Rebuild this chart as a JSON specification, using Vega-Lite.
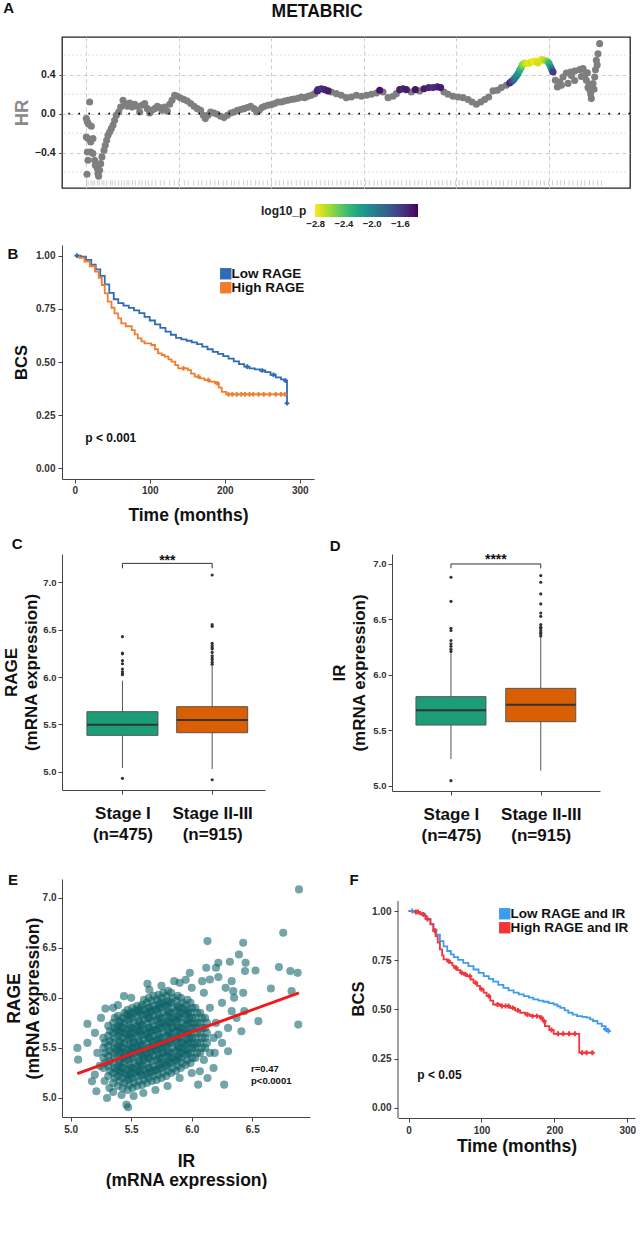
{
"$schema": "https://vega.github.io/schema/vega-lite/v6.json",
"background": "white",
"padding": {"left": 2, "top": 0, "right": 0, "bottom": 0},
"config": {
  "font": "Liberation Sans",
  "view": {"stroke": null},
  "axis": {"labelFontWeight": "bold", "titleFontWeight": "bold", "labelColor": "#333", "titleColor": "#111", "domainColor": "#444", "tickColor": "#444", "grid": false, "tickSize": 4, "labelFontSize": 10, "labelFlush": false},
  "title": {"fontWeight": "bold", "fontSize": 15, "anchor": "start", "frame": "bounds", "color": "#111", "baseline": "alphabetic"},
  "legend": {"labelFontWeight": "bold"}
},
"datasets": {
  "hr": [
    {"x":0.7,"hr":-0.622},{"x":3.6,"hr":0.12},{"x":0.0,"hr":-0.051},{"x":1.1,"hr":-0.085},{"x":2.5,"hr":-0.109},{"x":5.4,"hr":-0.13},{"x":0.0,"hr":-0.239},{"x":1.8,"hr":-0.256},{"x":7.2,"hr":-0.256},{"x":4.7,"hr":-0.291},{"x":1.1,"hr":-0.393},{"x":4.7,"hr":-0.393},{"x":7.2,"hr":-0.41},{"x":1.8,"hr":-0.479},{"x":9.0,"hr":-0.479},{"x":9.7,"hr":-0.53},{"x":11.9,"hr":-0.564},{"x":12.6,"hr":-0.615},{"x":13.3,"hr":-0.643},
    {"x":14.4,"hr":-0.581},{"x":15.5,"hr":-0.513},{"x":16.9,"hr":-0.444},{"x":19.1,"hr":-0.376},{"x":20.5,"hr":-0.325},{"x":22.0,"hr":-0.274},{"x":23.4,"hr":-0.222},{"x":25.2,"hr":-0.188},{"x":27.0,"hr":-0.154},{"x":28.8,"hr":-0.12},{"x":30.6,"hr":-0.068},{"x":32.4,"hr":-0.017},{"x":35.0,"hr":0.017},{"x":37.1,"hr":0.068},{"x":39.7,"hr":0.137},{"x":41.5,"hr":0.103},{"x":44.3,"hr":0.075},{"x":46.9,"hr":0.109},{"x":49.4,"hr":0.068},{"x":52.3,"hr":0.096},{"x":55.1,"hr":0.075},{"x":57.7,"hr":0.017},{"x":60.2,"hr":0.085},{"x":63.1,"hr":0.103},{"x":66.0,"hr":0.051},{"x":68.5,"hr":0.007},{"x":71.0,"hr":0.034},{"x":73.9,"hr":0.051},{"x":76.8,"hr":0.075},{"x":79.3,"hr":0.062},{"x":81.8,"hr":0.034},{"x":84.7,"hr":0.068},{"x":87.6,"hr":0.024},{"x":90.1,"hr":0.096},{"x":92.6,"hr":0.137},{"x":95.5,"hr":0.188},{"x":98.4,"hr":0.178},{"x":102.0,"hr":0.161},{"x":105.6,"hr":0.144},{"x":109.2,"hr":0.13},{"x":112.8,"hr":0.103},{"x":116.4,"hr":0.075},{"x":120.0,"hr":0.051},{"x":123.6,"hr":0.034},{"x":126.5,"hr":-0.017},{"x":128.7,"hr":-0.051},{"x":131.6,"hr":-0.017},{"x":134.4,"hr":0.017},{"x":138.0,"hr":0.007},{"x":141.6,"hr":-0.007},{"x":145.3,"hr":-0.027},{"x":148.9,"hr":-0.041},{"x":152.5,"hr":-0.017},{"x":156.1,"hr":0.007},{"x":159.7,"hr":0.017},{"x":163.3,"hr":0.034},{"x":166.9,"hr":0.041},{"x":170.5,"hr":0.051},{"x":174.1,"hr":0.062},{"x":177.7,"hr":0.075},{"x":181.3,"hr":0.051},{"x":184.2,"hr":0.017},{"x":187.0,"hr":0.034},{"x":189.9,"hr":0.062},{"x":192.8,"hr":0.075},{"x":196.4,"hr":0.085},{"x":200.0,"hr":0.092},{"x":203.6,"hr":0.103},{"x":207.2,"hr":0.12},{"x":210.8,"hr":0.12},{"x":214.4,"hr":0.13},{"x":218.0,"hr":0.137},{"x":221.7,"hr":0.144},{"x":225.3,"hr":0.15},{"x":228.9,"hr":0.157},{"x":232.5,"hr":0.171},{"x":236.1,"hr":0.164},{"x":239.7,"hr":0.178},{"x":243.3,"hr":0.188},{"x":246.9,"hr":0.205},
    {"x":264.9,"hr":0.222},{"x":270.3,"hr":0.205},{"x":275.7,"hr":0.188},{"x":281.1,"hr":0.164},{"x":286.5,"hr":0.171},{"x":292.0,"hr":0.188},{"x":297.4,"hr":0.178},{"x":302.8,"hr":0.188},{"x":308.2,"hr":0.198},{"x":313.6,"hr":0.212},{"x":320.8,"hr":0.222},{"x":326.2,"hr":0.164},{"x":331.6,"hr":0.178},{"x":335.2,"hr":0.205},{"x":351.4,"hr":0.222},{"x":360.4,"hr":0.233},{"x":386.7,"hr":0.222},{"x":391.1,"hr":0.198},{"x":396.5,"hr":0.178},{"x":401.9,"hr":0.171},{"x":407.3,"hr":0.164},{"x":412.7,"hr":0.144},{"x":417.0,"hr":0.12},{"x":421.7,"hr":0.096},{"x":426.4,"hr":0.12},{"x":430.7,"hr":0.144},{"x":435.0,"hr":0.171},{"x":439.7,"hr":0.233},{"x":444.4,"hr":0.239},{"x":448.7,"hr":0.267},{"x":454.1,"hr":0.291},
    {"x":507.1,"hr":0.342},{"x":509.3,"hr":0.274},{"x":511.8,"hr":0.325},{"x":515.4,"hr":0.376},{"x":519.0,"hr":0.417},{"x":523.7,"hr":0.427},{"x":528.0,"hr":0.438},{"x":533.4,"hr":0.451},{"x":537.0,"hr":0.462},{"x":538.8,"hr":0.393},{"x":540.6,"hr":0.342},{"x":542.4,"hr":0.267},{"x":544.2,"hr":0.246},{"x":546.0,"hr":0.154},{"x":547.8,"hr":0.308},{"x":549.6,"hr":0.376},{"x":551.4,"hr":0.547},{"x":553.2,"hr":0.615},{"x":555.0,"hr":0.718},
    {"x":513.6,"hr":0.29},{"x":520.8,"hr":0.31},{"x":528.0,"hr":0.34},{"x":535.2,"hr":0.38},{"x":524.4,"hr":0.39},{"x":541.7,"hr":0.42},{"x":543.5,"hr":0.3},{"x":545.3,"hr":0.2},{"x":548.9,"hr":0.25},{"x":550.5,"hr":0.45},{"x":552.3,"hr":0.5},
    {"x":249.8,"hr":0.233,"p":-1.45},{"x":250.5,"hr":0.246,"p":-1.5},{"x":254.1,"hr":0.256,"p":-1.55},{"x":257.7,"hr":0.246,"p":-1.5},{"x":261.3,"hr":0.233,"p":-1.45},{"x":317.2,"hr":0.239,"p":-1.42},{"x":338.8,"hr":0.246,"p":-1.45},{"x":342.4,"hr":0.256,"p":-1.5},{"x":346.0,"hr":0.246,"p":-1.45},{"x":355.7,"hr":0.246,"p":-1.42},{"x":365.1,"hr":0.256,"p":-1.45},{"x":370.2,"hr":0.267,"p":-1.5},{"x":374.8,"hr":0.267,"p":-1.55},{"x":379.5,"hr":0.274,"p":-1.5},{"x":383.1,"hr":0.267,"p":-1.45},
    {"x":457.7,"hr":0.315,"p":-1.5},{"x":459.5,"hr":0.33,"p":-1.6},{"x":461.3,"hr":0.342,"p":-1.75},{"x":463.0,"hr":0.36,"p":-1.9},{"x":464.9,"hr":0.383,"p":-2.0},{"x":466.7,"hr":0.41,"p":-2.1},{"x":468.5,"hr":0.444,"p":-2.25},{"x":470.0,"hr":0.47,"p":-2.35},{"x":471.1,"hr":0.496,"p":-2.5},{"x":472.5,"hr":0.51,"p":-2.55},{"x":474.0,"hr":0.52,"p":-2.65},{"x":476.0,"hr":0.515,"p":-2.7},{"x":477.6,"hr":0.513,"p":-2.75},{"x":479.5,"hr":0.52,"p":-2.75},{"x":481.2,"hr":0.53,"p":-2.7},{"x":483.0,"hr":0.535,"p":-2.78},{"x":484.8,"hr":0.54,"p":-2.8},{"x":486.5,"hr":0.53,"p":-2.75},{"x":488.4,"hr":0.52,"p":-2.7},{"x":490.0,"hr":0.54,"p":-2.72},{"x":492.0,"hr":0.554,"p":-2.75},{"x":494.0,"hr":0.55,"p":-2.7},{"x":495.6,"hr":0.547,"p":-2.65},{"x":497.5,"hr":0.54,"p":-2.6},{"x":499.2,"hr":0.53,"p":-2.45},{"x":500.5,"hr":0.51,"p":-2.3},{"x":502.1,"hr":0.479,"p":-2.1},{"x":503.3,"hr":0.45,"p":-1.9},{"x":504.6,"hr":0.427,"p":-1.6}
  ],
  "rug": [{"x":0},{"x":2},{"x":5},{"x":7},{"x":9},{"x":12},{"x":14},{"x":17},{"x":19},{"x":22},{"x":26},{"x":28},{"x":31},{"x":35},{"x":38},{"x":41},{"x":44},{"x":46},{"x":50},{"x":53},{"x":57},{"x":60},{"x":64},{"x":67},{"x":71},{"x":75},{"x":80},{"x":84},{"x":90},{"x":95},{"x":100},{"x":106},{"x":110},{"x":116},{"x":121},{"x":125},{"x":130},{"x":134},{"x":139},{"x":143},{"x":148},{"x":152},{"x":157},{"x":160},{"x":165},{"x":170},{"x":174},{"x":178},{"x":183},{"x":187},{"x":191},{"x":196},{"x":200},{"x":205},{"x":209},{"x":213},{"x":218},{"x":222},{"x":227},{"x":231},{"x":236},{"x":240},{"x":244},{"x":249},{"x":253},{"x":258},{"x":262},{"x":266},{"x":271},{"x":275},{"x":280},{"x":284},{"x":289},{"x":293},{"x":297},{"x":302},{"x":306},{"x":311},{"x":315},{"x":319},{"x":324},{"x":328},{"x":333},{"x":337},{"x":341},{"x":346},{"x":350},{"x":355},{"x":359},{"x":363},{"x":368},{"x":372},{"x":377},{"x":381},{"x":385},{"x":390},{"x":394},{"x":399},{"x":403},{"x":407},{"x":412},{"x":416},{"x":421},{"x":425},{"x":429},{"x":434},{"x":438},{"x":443},{"x":447},{"x":451},{"x":456},{"x":460},{"x":465},{"x":469},{"x":473},{"x":478},{"x":482},{"x":487},{"x":491},{"x":495},{"x":500},{"x":504},{"x":509},{"x":513},{"x":517},{"x":522},{"x":526},{"x":531},{"x":535},{"x":539},{"x":544},{"x":548},{"x":553},{"x":557}],
  "kmB": [
    {"t":0,"s":1.0,"g":"Low RAGE"},{"t":8,"s":0.995,"g":"Low RAGE"},{"t":15,"s":0.98,"g":"Low RAGE"},{"t":22,"s":0.958,"g":"Low RAGE"},{"t":28,"s":0.935,"g":"Low RAGE"},{"t":34,"s":0.905,"g":"Low RAGE"},{"t":40,"s":0.865,"g":"Low RAGE"},{"t":46,"s":0.825,"g":"Low RAGE"},{"t":52,"s":0.795,"g":"Low RAGE"},{"t":58,"s":0.777,"g":"Low RAGE"},{"t":65,"s":0.765,"g":"Low RAGE"},{"t":72,"s":0.754,"g":"Low RAGE"},{"t":79,"s":0.743,"g":"Low RAGE"},{"t":86,"s":0.73,"g":"Low RAGE"},{"t":93,"s":0.712,"g":"Low RAGE"},{"t":100,"s":0.695,"g":"Low RAGE"},{"t":107,"s":0.677,"g":"Low RAGE"},{"t":114,"s":0.66,"g":"Low RAGE"},{"t":121,"s":0.643,"g":"Low RAGE"},{"t":128,"s":0.628,"g":"Low RAGE"},{"t":135,"s":0.613,"g":"Low RAGE"},{"t":142,"s":0.606,"g":"Low RAGE"},{"t":149,"s":0.6,"g":"Low RAGE"},{"t":156,"s":0.592,"g":"Low RAGE"},{"t":163,"s":0.584,"g":"Low RAGE"},{"t":170,"s":0.572,"g":"Low RAGE"},{"t":177,"s":0.56,"g":"Low RAGE"},{"t":184,"s":0.548,"g":"Low RAGE"},{"t":191,"s":0.538,"g":"Low RAGE"},{"t":198,"s":0.528,"g":"Low RAGE"},{"t":205,"s":0.516,"g":"Low RAGE"},{"t":212,"s":0.503,"g":"Low RAGE"},{"t":219,"s":0.49,"g":"Low RAGE"},{"t":226,"s":0.478,"g":"Low RAGE"},{"t":233,"s":0.47,"g":"Low RAGE"},{"t":240,"s":0.465,"g":"Low RAGE"},{"t":247,"s":0.46,"g":"Low RAGE"},{"t":254,"s":0.452,"g":"Low RAGE"},{"t":261,"s":0.44,"g":"Low RAGE"},{"t":268,"s":0.428,"g":"Low RAGE"},{"t":275,"s":0.418,"g":"Low RAGE"},{"t":281,"s":0.412,"g":"Low RAGE"},{"t":283,"s":0.306,"g":"Low RAGE"},
    {"t":0,"s":1.0,"g":"High RAGE"},{"t":6,"s":0.99,"g":"High RAGE"},{"t":13,"s":0.972,"g":"High RAGE"},{"t":20,"s":0.95,"g":"High RAGE"},{"t":27,"s":0.925,"g":"High RAGE"},{"t":32,"s":0.895,"g":"High RAGE"},{"t":36,"s":0.862,"g":"High RAGE"},{"t":40,"s":0.823,"g":"High RAGE"},{"t":44,"s":0.784,"g":"High RAGE"},{"t":49,"s":0.755,"g":"High RAGE"},{"t":53,"s":0.729,"g":"High RAGE"},{"t":58,"s":0.705,"g":"High RAGE"},{"t":62,"s":0.682,"g":"High RAGE"},{"t":68,"s":0.668,"g":"High RAGE"},{"t":76,"s":0.65,"g":"High RAGE"},{"t":80,"s":0.63,"g":"High RAGE"},{"t":84,"s":0.611,"g":"High RAGE"},{"t":89,"s":0.597,"g":"High RAGE"},{"t":93,"s":0.588,"g":"High RAGE"},{"t":102,"s":0.58,"g":"High RAGE"},{"t":107,"s":0.56,"g":"High RAGE"},{"t":111,"s":0.541,"g":"High RAGE"},{"t":116,"s":0.533,"g":"High RAGE"},{"t":120,"s":0.525,"g":"High RAGE"},{"t":125,"s":0.512,"g":"High RAGE"},{"t":129,"s":0.502,"g":"High RAGE"},{"t":134,"s":0.485,"g":"High RAGE"},{"t":138,"s":0.47,"g":"High RAGE"},{"t":151,"s":0.462,"g":"High RAGE"},{"t":155,"s":0.445,"g":"High RAGE"},{"t":160,"s":0.431,"g":"High RAGE"},{"t":167,"s":0.423,"g":"High RAGE"},{"t":173,"s":0.415,"g":"High RAGE"},{"t":180,"s":0.408,"g":"High RAGE"},{"t":187,"s":0.4,"g":"High RAGE"},{"t":192,"s":0.38,"g":"High RAGE"},{"t":196,"s":0.36,"g":"High RAGE"},{"t":202,"s":0.348,"g":"High RAGE"},{"t":280,"s":0.348,"g":"High RAGE"}
  ],
  "cenB": [
    {"t":3,"s":1.0,"g":"Low RAGE"},{"t":230,"s":0.478,"g":"Low RAGE"},{"t":250,"s":0.46,"g":"Low RAGE"},{"t":265,"s":0.44,"g":"Low RAGE"},{"t":281,"s":0.412,"g":"Low RAGE"},{"t":283,"s":0.306,"g":"Low RAGE"},
    {"t":145,"s":0.47,"g":"High RAGE"},{"t":165,"s":0.431,"g":"High RAGE"},{"t":178,"s":0.415,"g":"High RAGE"},{"t":190,"s":0.4,"g":"High RAGE"},{"t":205,"s":0.348,"g":"High RAGE"},{"t":210,"s":0.348,"g":"High RAGE"},{"t":216,"s":0.348,"g":"High RAGE"},{"t":222,"s":0.348,"g":"High RAGE"},{"t":227,"s":0.348,"g":"High RAGE"},{"t":233,"s":0.348,"g":"High RAGE"},{"t":238,"s":0.348,"g":"High RAGE"},{"t":245,"s":0.348,"g":"High RAGE"},{"t":252,"s":0.348,"g":"High RAGE"},{"t":260,"s":0.348,"g":"High RAGE"},{"t":268,"s":0.348,"g":"High RAGE"},{"t":275,"s":0.348,"g":"High RAGE"},{"t":280,"s":0.348,"g":"High RAGE"}
  ],
  "boxC": [
    {"g":1,"stage":"Stage I","lo":5.039,"q1":5.384,"med":5.496,"q3":5.634,"hi":5.961},
    {"g":2,"stage":"Stage II-III","lo":5.028,"q1":5.412,"med":5.546,"q3":5.687,"hi":6.12}
  ],
  "outC": [
    {"g":1,"v":6.426},{"g":1,"v":6.254},{"g":1,"v":6.245},{"g":1,"v":6.173},{"g":1,"v":6.14},{"g":1,"v":6.085},{"g":1,"v":6.056},{"g":1,"v":6.035},{"g":1,"v":6.025},{"g":1,"v":4.93},
    {"g":2,"v":7.077},{"g":2,"v":6.553},{"g":2,"v":6.535},{"g":2,"v":6.356},{"g":2,"v":6.331},{"g":2,"v":6.31},{"g":2,"v":6.296},{"g":2,"v":6.26},{"g":2,"v":6.225},{"g":2,"v":6.2},{"g":2,"v":6.183},{"g":2,"v":6.155},{"g":2,"v":6.135},{"g":2,"v":4.915}
  ],
  "brC": [{"g":1,"v":7.148,"o":1},{"g":1,"v":7.2,"o":2},{"g":2,"v":7.2,"o":3},{"g":2,"v":7.148,"o":4}],
  "boxD": [
    {"g":1,"stage":"Stage I","lo":5.241,"q1":5.547,"med":5.68,"q3":5.803,"hi":6.194},
    {"g":2,"stage":"Stage II-III","lo":5.135,"q1":5.577,"med":5.731,"q3":5.878,"hi":6.344}
  ],
  "outD": [
    {"g":1,"v":6.88},{"g":1,"v":6.663},{"g":1,"v":6.42},{"g":1,"v":6.4},{"g":1,"v":6.31},{"g":1,"v":6.28},{"g":1,"v":6.257},{"g":1,"v":6.23},{"g":1,"v":6.21},{"g":1,"v":5.045},
    {"g":2,"v":6.895},{"g":2,"v":6.835},{"g":2,"v":6.73},{"g":2,"v":6.64},{"g":2,"v":6.558},{"g":2,"v":6.528},{"g":2,"v":6.453},{"g":2,"v":6.43},{"g":2,"v":6.42},{"g":2,"v":6.4},{"g":2,"v":6.38},{"g":2,"v":6.37},{"g":2,"v":6.35}
  ],
  "brD": [{"g":1,"v":6.961,"o":1},{"g":1,"v":7.0,"o":2},{"g":2,"v":7.0,"o":3},{"g":2,"v":6.961,"o":4}],
  "scat": [
    {"ir":5.27,"rage":5.3},{"ir":5.285,"rage":5.35},{"ir":5.27,"rage":5.4},{"ir":5.285,"rage":5.45},{"ir":5.27,"rage":5.5},{"ir":5.285,"rage":5.55},{"ir":5.27,"rage":5.6},
    {"ir":5.31,"rage":5.22},{"ir":5.325,"rage":5.27},{"ir":5.31,"rage":5.32},{"ir":5.325,"rage":5.37},{"ir":5.31,"rage":5.42},{"ir":5.325,"rage":5.47},{"ir":5.31,"rage":5.52},{"ir":5.325,"rage":5.57},{"ir":5.31,"rage":5.62},{"ir":5.325,"rage":5.67},{"ir":5.31,"rage":5.72},
    {"ir":5.35,"rage":5.15},{"ir":5.365,"rage":5.2},{"ir":5.35,"rage":5.25},{"ir":5.365,"rage":5.3},{"ir":5.35,"rage":5.35},{"ir":5.365,"rage":5.4},{"ir":5.35,"rage":5.45},{"ir":5.365,"rage":5.5},{"ir":5.35,"rage":5.55},{"ir":5.365,"rage":5.6},{"ir":5.35,"rage":5.65},{"ir":5.365,"rage":5.7},{"ir":5.35,"rage":5.75},{"ir":5.365,"rage":5.8},
    {"ir":5.39,"rage":5.12},{"ir":5.405,"rage":5.17},{"ir":5.39,"rage":5.22},{"ir":5.405,"rage":5.27},{"ir":5.39,"rage":5.32},{"ir":5.405,"rage":5.37},{"ir":5.39,"rage":5.42},{"ir":5.405,"rage":5.47},{"ir":5.39,"rage":5.52},{"ir":5.405,"rage":5.57},{"ir":5.39,"rage":5.62},{"ir":5.405,"rage":5.67},{"ir":5.39,"rage":5.72},{"ir":5.405,"rage":5.77},{"ir":5.39,"rage":5.82},
    {"ir":5.43,"rage":5.1},{"ir":5.445,"rage":5.15},{"ir":5.43,"rage":5.2},{"ir":5.445,"rage":5.25},{"ir":5.43,"rage":5.3},{"ir":5.445,"rage":5.35},{"ir":5.43,"rage":5.4},{"ir":5.445,"rage":5.45},{"ir":5.43,"rage":5.5},{"ir":5.445,"rage":5.55},{"ir":5.43,"rage":5.6},{"ir":5.445,"rage":5.65},{"ir":5.43,"rage":5.7},{"ir":5.445,"rage":5.75},{"ir":5.43,"rage":5.8},{"ir":5.445,"rage":5.85},
    {"ir":5.47,"rage":5.08},{"ir":5.485,"rage":5.13},{"ir":5.47,"rage":5.18},{"ir":5.485,"rage":5.23},{"ir":5.47,"rage":5.28},{"ir":5.485,"rage":5.33},{"ir":5.47,"rage":5.38},{"ir":5.485,"rage":5.43},{"ir":5.47,"rage":5.48},{"ir":5.485,"rage":5.53},{"ir":5.47,"rage":5.58},{"ir":5.485,"rage":5.63},{"ir":5.47,"rage":5.68},{"ir":5.485,"rage":5.73},{"ir":5.47,"rage":5.78},{"ir":5.485,"rage":5.83},{"ir":5.47,"rage":5.88},
    {"ir":5.51,"rage":5.1},{"ir":5.525,"rage":5.15},{"ir":5.51,"rage":5.2},{"ir":5.525,"rage":5.25},{"ir":5.51,"rage":5.3},{"ir":5.525,"rage":5.35},{"ir":5.51,"rage":5.4},{"ir":5.525,"rage":5.45},{"ir":5.51,"rage":5.5},{"ir":5.525,"rage":5.55},{"ir":5.51,"rage":5.6},{"ir":5.525,"rage":5.65},{"ir":5.51,"rage":5.7},{"ir":5.525,"rage":5.75},{"ir":5.51,"rage":5.8},{"ir":5.525,"rage":5.85},{"ir":5.51,"rage":5.9},
    {"ir":5.55,"rage":5.12},{"ir":5.565,"rage":5.17},{"ir":5.55,"rage":5.22},{"ir":5.565,"rage":5.27},{"ir":5.55,"rage":5.32},{"ir":5.565,"rage":5.37},{"ir":5.55,"rage":5.42},{"ir":5.565,"rage":5.47},{"ir":5.55,"rage":5.52},{"ir":5.565,"rage":5.57},{"ir":5.55,"rage":5.62},{"ir":5.565,"rage":5.67},{"ir":5.55,"rage":5.72},{"ir":5.565,"rage":5.77},{"ir":5.55,"rage":5.82},{"ir":5.565,"rage":5.87},{"ir":5.55,"rage":5.92},
    {"ir":5.59,"rage":5.13},{"ir":5.605,"rage":5.18},{"ir":5.59,"rage":5.23},{"ir":5.605,"rage":5.28},{"ir":5.59,"rage":5.33},{"ir":5.605,"rage":5.38},{"ir":5.59,"rage":5.43},{"ir":5.605,"rage":5.48},{"ir":5.59,"rage":5.53},{"ir":5.605,"rage":5.58},{"ir":5.59,"rage":5.63},{"ir":5.605,"rage":5.68},{"ir":5.59,"rage":5.73},{"ir":5.605,"rage":5.78},{"ir":5.59,"rage":5.83},{"ir":5.605,"rage":5.88},{"ir":5.59,"rage":5.93},{"ir":5.605,"rage":5.98},
    {"ir":5.63,"rage":5.15},{"ir":5.645,"rage":5.2},{"ir":5.63,"rage":5.25},{"ir":5.645,"rage":5.3},{"ir":5.63,"rage":5.35},{"ir":5.645,"rage":5.4},{"ir":5.63,"rage":5.45},{"ir":5.645,"rage":5.5},{"ir":5.63,"rage":5.55},{"ir":5.645,"rage":5.6},{"ir":5.63,"rage":5.65},{"ir":5.645,"rage":5.7},{"ir":5.63,"rage":5.75},{"ir":5.645,"rage":5.8},{"ir":5.63,"rage":5.85},{"ir":5.645,"rage":5.9},{"ir":5.63,"rage":5.95},{"ir":5.645,"rage":6.0},
    {"ir":5.67,"rage":5.17},{"ir":5.685,"rage":5.22},{"ir":5.67,"rage":5.27},{"ir":5.685,"rage":5.32},{"ir":5.67,"rage":5.37},{"ir":5.685,"rage":5.42},{"ir":5.67,"rage":5.47},{"ir":5.685,"rage":5.52},{"ir":5.67,"rage":5.57},{"ir":5.685,"rage":5.62},{"ir":5.67,"rage":5.67},{"ir":5.685,"rage":5.72},{"ir":5.67,"rage":5.77},{"ir":5.685,"rage":5.82},{"ir":5.67,"rage":5.87},{"ir":5.685,"rage":5.92},{"ir":5.67,"rage":5.97},{"ir":5.685,"rage":6.02},
    {"ir":5.71,"rage":5.18},{"ir":5.725,"rage":5.23},{"ir":5.71,"rage":5.28},{"ir":5.725,"rage":5.33},{"ir":5.71,"rage":5.38},{"ir":5.725,"rage":5.43},{"ir":5.71,"rage":5.48},{"ir":5.725,"rage":5.53},{"ir":5.71,"rage":5.58},{"ir":5.725,"rage":5.63},{"ir":5.71,"rage":5.68},{"ir":5.725,"rage":5.73},{"ir":5.71,"rage":5.78},{"ir":5.725,"rage":5.83},{"ir":5.71,"rage":5.88},{"ir":5.725,"rage":5.93},{"ir":5.71,"rage":5.98},{"ir":5.725,"rage":6.03},
    {"ir":5.75,"rage":5.2},{"ir":5.765,"rage":5.25},{"ir":5.75,"rage":5.3},{"ir":5.765,"rage":5.35},{"ir":5.75,"rage":5.4},{"ir":5.765,"rage":5.45},{"ir":5.75,"rage":5.5},{"ir":5.765,"rage":5.55},{"ir":5.75,"rage":5.6},{"ir":5.765,"rage":5.65},{"ir":5.75,"rage":5.7},{"ir":5.765,"rage":5.75},{"ir":5.75,"rage":5.8},{"ir":5.765,"rage":5.85},{"ir":5.75,"rage":5.9},{"ir":5.765,"rage":5.95},{"ir":5.75,"rage":6.0},{"ir":5.765,"rage":6.05},
    {"ir":5.79,"rage":5.22},{"ir":5.805,"rage":5.27},{"ir":5.79,"rage":5.32},{"ir":5.805,"rage":5.37},{"ir":5.79,"rage":5.42},{"ir":5.805,"rage":5.47},{"ir":5.79,"rage":5.52},{"ir":5.805,"rage":5.57},{"ir":5.79,"rage":5.62},{"ir":5.805,"rage":5.67},{"ir":5.79,"rage":5.72},{"ir":5.805,"rage":5.77},{"ir":5.79,"rage":5.82},{"ir":5.805,"rage":5.87},{"ir":5.79,"rage":5.92},{"ir":5.805,"rage":5.97},{"ir":5.79,"rage":6.02},{"ir":5.805,"rage":6.07},
    {"ir":5.83,"rage":5.25},{"ir":5.845,"rage":5.3},{"ir":5.83,"rage":5.35},{"ir":5.845,"rage":5.4},{"ir":5.83,"rage":5.45},{"ir":5.845,"rage":5.5},{"ir":5.83,"rage":5.55},{"ir":5.845,"rage":5.6},{"ir":5.83,"rage":5.65},{"ir":5.845,"rage":5.7},{"ir":5.83,"rage":5.75},{"ir":5.845,"rage":5.8},{"ir":5.83,"rage":5.85},{"ir":5.845,"rage":5.9},{"ir":5.83,"rage":5.95},{"ir":5.845,"rage":6.0},{"ir":5.83,"rage":6.05},
    {"ir":5.87,"rage":5.27},{"ir":5.885,"rage":5.32},{"ir":5.87,"rage":5.37},{"ir":5.885,"rage":5.42},{"ir":5.87,"rage":5.47},{"ir":5.885,"rage":5.52},{"ir":5.87,"rage":5.57},{"ir":5.885,"rage":5.62},{"ir":5.87,"rage":5.67},{"ir":5.885,"rage":5.72},{"ir":5.87,"rage":5.77},{"ir":5.885,"rage":5.82},{"ir":5.87,"rage":5.87},{"ir":5.885,"rage":5.92},{"ir":5.87,"rage":5.97},{"ir":5.885,"rage":6.02},
    {"ir":5.91,"rage":5.3},{"ir":5.925,"rage":5.35},{"ir":5.91,"rage":5.4},{"ir":5.925,"rage":5.45},{"ir":5.91,"rage":5.5},{"ir":5.925,"rage":5.55},{"ir":5.91,"rage":5.6},{"ir":5.925,"rage":5.65},{"ir":5.91,"rage":5.7},{"ir":5.925,"rage":5.75},{"ir":5.91,"rage":5.8},{"ir":5.925,"rage":5.85},{"ir":5.91,"rage":5.9},{"ir":5.925,"rage":5.95},{"ir":5.91,"rage":6.0},
    {"ir":5.95,"rage":5.33},{"ir":5.965,"rage":5.38},{"ir":5.95,"rage":5.43},{"ir":5.965,"rage":5.48},{"ir":5.95,"rage":5.53},{"ir":5.965,"rage":5.58},{"ir":5.95,"rage":5.63},{"ir":5.965,"rage":5.68},{"ir":5.95,"rage":5.73},{"ir":5.965,"rage":5.78},{"ir":5.95,"rage":5.83},{"ir":5.965,"rage":5.88},{"ir":5.95,"rage":5.93},{"ir":5.965,"rage":5.98},
    {"ir":5.99,"rage":5.35},{"ir":6.005,"rage":5.4},{"ir":5.99,"rage":5.45},{"ir":6.005,"rage":5.5},{"ir":5.99,"rage":5.55},{"ir":6.005,"rage":5.6},{"ir":5.99,"rage":5.65},{"ir":6.005,"rage":5.7},{"ir":5.99,"rage":5.75},{"ir":6.005,"rage":5.8},{"ir":5.99,"rage":5.85},{"ir":6.005,"rage":5.9},{"ir":5.99,"rage":5.95},
    {"ir":6.03,"rage":5.4},{"ir":6.045,"rage":5.45},{"ir":6.03,"rage":5.5},{"ir":6.045,"rage":5.55},{"ir":6.03,"rage":5.6},{"ir":6.045,"rage":5.65},{"ir":6.03,"rage":5.7},{"ir":6.045,"rage":5.75},{"ir":6.03,"rage":5.8},{"ir":6.045,"rage":5.85},{"ir":6.03,"rage":5.9},
    {"ir":6.07,"rage":5.45},{"ir":6.085,"rage":5.5},{"ir":6.07,"rage":5.55},{"ir":6.085,"rage":5.6},{"ir":6.07,"rage":5.65},{"ir":6.085,"rage":5.7},{"ir":6.07,"rage":5.75},{"ir":6.085,"rage":5.8},{"ir":6.07,"rage":5.85},
    {"ir":6.11,"rage":5.5},{"ir":6.125,"rage":5.55},{"ir":6.11,"rage":5.6},{"ir":6.125,"rage":5.65},{"ir":6.11,"rage":5.7},{"ir":6.125,"rage":5.75},{"ir":6.11,"rage":5.8},
    {"ir":5.41,"rage":5.25},{"ir":5.41,"rage":5.35},{"ir":5.41,"rage":5.45},{"ir":5.41,"rage":5.55},{"ir":5.41,"rage":5.65},{"ir":5.41,"rage":5.75},
    {"ir":5.49,"rage":5.2},{"ir":5.49,"rage":5.3},{"ir":5.49,"rage":5.4},{"ir":5.49,"rage":5.5},{"ir":5.49,"rage":5.6},{"ir":5.49,"rage":5.7},{"ir":5.49,"rage":5.8},
    {"ir":5.57,"rage":5.25},{"ir":5.57,"rage":5.35},{"ir":5.57,"rage":5.45},{"ir":5.57,"rage":5.55},{"ir":5.57,"rage":5.65},{"ir":5.57,"rage":5.75},{"ir":5.57,"rage":5.85},
    {"ir":5.65,"rage":5.3},{"ir":5.65,"rage":5.4},{"ir":5.65,"rage":5.5},{"ir":5.65,"rage":5.6},{"ir":5.65,"rage":5.7},{"ir":5.65,"rage":5.8},{"ir":5.65,"rage":5.9},
    {"ir":5.73,"rage":5.3},{"ir":5.73,"rage":5.4},{"ir":5.73,"rage":5.5},{"ir":5.73,"rage":5.6},{"ir":5.73,"rage":5.7},{"ir":5.73,"rage":5.8},{"ir":5.73,"rage":5.9},
    {"ir":5.81,"rage":5.35},{"ir":5.81,"rage":5.45},{"ir":5.81,"rage":5.55},{"ir":5.81,"rage":5.65},{"ir":5.81,"rage":5.75},{"ir":5.81,"rage":5.85},{"ir":5.81,"rage":5.95},
    {"ir":5.89,"rage":5.4},{"ir":5.89,"rage":5.5},{"ir":5.89,"rage":5.6},{"ir":5.89,"rage":5.7},{"ir":5.89,"rage":5.8},{"ir":5.89,"rage":5.9},
    {"ir":5.97,"rage":5.45},{"ir":5.97,"rage":5.55},{"ir":5.97,"rage":5.65},{"ir":5.97,"rage":5.75},{"ir":5.97,"rage":5.85},
    {"ir":5.38,"rage":5.28},{"ir":5.38,"rage":5.48},{"ir":5.38,"rage":5.68},{"ir":5.46,"rage":5.23},{"ir":5.46,"rage":5.43},{"ir":5.46,"rage":5.63},{"ir":5.46,"rage":5.83},{"ir":5.54,"rage":5.28},{"ir":5.54,"rage":5.48},{"ir":5.54,"rage":5.68},{"ir":5.54,"rage":5.88},{"ir":5.62,"rage":5.23},{"ir":5.62,"rage":5.43},{"ir":5.62,"rage":5.63},{"ir":5.62,"rage":5.83},{"ir":5.7,"rage":5.28},{"ir":5.7,"rage":5.48},{"ir":5.7,"rage":5.68},{"ir":5.7,"rage":5.88},{"ir":5.78,"rage":5.33},{"ir":5.78,"rage":5.53},{"ir":5.78,"rage":5.73},{"ir":5.78,"rage":5.93},{"ir":5.86,"rage":5.38},{"ir":5.86,"rage":5.58},{"ir":5.86,"rage":5.78},{"ir":5.94,"rage":5.48},{"ir":5.94,"rage":5.68},{"ir":5.94,"rage":5.88},{"ir":6.02,"rage":5.53},{"ir":6.02,"rage":5.73},
    {"ir":5.42,"rage":5.305},{"ir":5.42,"rage":5.505},{"ir":5.42,"rage":5.705},{"ir":5.5,"rage":5.255},{"ir":5.5,"rage":5.455},{"ir":5.5,"rage":5.655},{"ir":5.5,"rage":5.855},{"ir":5.58,"rage":5.305},{"ir":5.58,"rage":5.505},{"ir":5.58,"rage":5.705},{"ir":5.58,"rage":5.905},{"ir":5.66,"rage":5.255},{"ir":5.66,"rage":5.455},{"ir":5.66,"rage":5.655},{"ir":5.66,"rage":5.855},{"ir":5.74,"rage":5.355},{"ir":5.74,"rage":5.555},{"ir":5.74,"rage":5.755},{"ir":5.74,"rage":5.955},{"ir":5.82,"rage":5.405},{"ir":5.82,"rage":5.605},{"ir":5.82,"rage":5.805},{"ir":5.9,"rage":5.455},{"ir":5.9,"rage":5.655},{"ir":5.9,"rage":5.855},{"ir":5.98,"rage":5.605},{"ir":5.98,"rage":5.805},{"ir":5.44,"rage":5.405},{"ir":5.52,"rage":5.555},{"ir":5.6,"rage":5.405},{"ir":5.68,"rage":5.555},{"ir":5.76,"rage":5.455},{"ir":5.84,"rage":5.705},{"ir":5.92,"rage":5.555},
    {"ir":5.055,"rage":5.5},{"ir":5.061,"rage":5.383},{"ir":5.138,"rage":5.74},{"ir":5.138,"rage":5.55},{"ir":5.199,"rage":5.233},{"ir":5.212,"rage":5.067},{"ir":5.176,"rage":5.167},{"ir":5.287,"rage":5.893},{"ir":5.35,"rage":5.06},{"ir":5.39,"rage":5.927},{"ir":5.44,"rage":6.017},{"ir":5.46,"rage":4.933},{"ir":5.474,"rage":4.907},{"ir":5.634,"rage":6.14},{"ir":5.855,"rage":6.167},{"ir":5.984,"rage":6.25},{"ir":6.13,"rage":6.567},{"ir":6.13,"rage":5.2},{"ir":6.067,"rage":5.267},{"ir":6.053,"rage":5.133},{"ir":6.086,"rage":6.167},{"ir":6.15,"rage":6.183},{"ir":6.2,"rage":6.3},{"ir":6.22,"rage":6.207},{"ir":6.268,"rage":5.133},{"ir":6.315,"rage":6.36},{"ir":6.3,"rage":5.467},{"ir":6.33,"rage":6.167},{"ir":6.343,"rage":6.067},{"ir":6.39,"rage":6.433},{"ir":6.425,"rage":6.55},{"ir":6.44,"rage":6.267},{"ir":6.445,"rage":6.35},{"ir":6.425,"rage":6.05},{"ir":6.41,"rage":5.667},{"ir":6.434,"rage":5.867},{"ir":6.527,"rage":6.273},{"ir":6.55,"rage":5.767},{"ir":6.654,"rage":6.093},{"ir":6.72,"rage":6.307},{"ir":6.756,"rage":6.65},{"ir":6.814,"rage":6.267},{"ir":6.825,"rage":6.067},{"ir":6.875,"rage":6.25},{"ir":6.88,"rage":5.733},{"ir":6.886,"rage":7.083},{"ir":6.22,"rage":6.35},{"ir":6.33,"rage":5.867},{"ir":6.37,"rage":5.8},{"ir":6.22,"rage":5.633},{"ir":6.19,"rage":5.45},
    {"ir":5.22,"rage":5.45},{"ir":5.24,"rage":5.32},{"ir":5.28,"rage":5.17},{"ir":5.32,"rage":5.1},{"ir":5.42,"rage":5.03},{"ir":5.52,"rage":5.02},{"ir":5.6,"rage":5.05},{"ir":5.7,"rage":5.08},{"ir":5.8,"rage":5.12},{"ir":5.9,"rage":5.2},{"ir":6.0,"rage":5.25},{"ir":6.1,"rage":5.38},{"ir":6.15,"rage":5.45},{"ir":6.18,"rage":5.6},{"ir":6.2,"rage":5.75},{"ir":6.15,"rage":5.9},{"ir":6.1,"rage":6.05},{"ir":6.0,"rage":6.1},{"ir":5.9,"rage":6.15},{"ir":5.75,"rage":6.12},{"ir":5.65,"rage":6.08},{"ir":5.5,"rage":6.0},{"ir":5.35,"rage":5.9},{"ir":5.25,"rage":5.8},{"ir":6.25,"rage":5.95},{"ir":6.28,"rage":6.1},{"ir":6.3,"rage":5.7},{"ir":6.25,"rage":5.55},{"ir":6.18,"rage":5.3},{"ir":6.35,"rage":6.0},{"ir":6.12,"rage":6.3},{"ir":5.95,"rage":6.18},{"ir":5.2,"rage":5.65},{"ir":5.3,"rage":5.0}
  ],
  "fit": [{"ir":5.055,"rage":5.243},{"ir":6.886,"rage":6.05}],
  "kmF": [
    {"t":0,"s":1.0,"g":"Low RAGE and IR"},{"t":10,"s":0.995,"g":"Low RAGE and IR"},{"t":16,"s":0.99,"g":"Low RAGE and IR"},{"t":21,"s":0.975,"g":"Low RAGE and IR"},{"t":25,"s":0.958,"g":"Low RAGE and IR"},{"t":30,"s":0.935,"g":"Low RAGE and IR"},{"t":34,"s":0.907,"g":"Low RAGE and IR"},{"t":38,"s":0.88,"g":"Low RAGE and IR"},{"t":43,"s":0.847,"g":"Low RAGE and IR"},{"t":48,"s":0.82,"g":"Low RAGE and IR"},{"t":53,"s":0.797,"g":"Low RAGE and IR"},{"t":58,"s":0.78,"g":"Low RAGE and IR"},{"t":62,"s":0.766,"g":"Low RAGE and IR"},{"t":68,"s":0.752,"g":"Low RAGE and IR"},{"t":75,"s":0.737,"g":"Low RAGE and IR"},{"t":82,"s":0.72,"g":"Low RAGE and IR"},{"t":89,"s":0.703,"g":"Low RAGE and IR"},{"t":96,"s":0.686,"g":"Low RAGE and IR"},{"t":103,"s":0.669,"g":"Low RAGE and IR"},{"t":110,"s":0.655,"g":"Low RAGE and IR"},{"t":116,"s":0.641,"g":"Low RAGE and IR"},{"t":123,"s":0.625,"g":"Low RAGE and IR"},{"t":130,"s":0.61,"g":"Low RAGE and IR"},{"t":137,"s":0.597,"g":"Low RAGE and IR"},{"t":144,"s":0.585,"g":"Low RAGE and IR"},{"t":151,"s":0.576,"g":"Low RAGE and IR"},{"t":158,"s":0.568,"g":"Low RAGE and IR"},{"t":165,"s":0.56,"g":"Low RAGE and IR"},{"t":171,"s":0.551,"g":"Low RAGE and IR"},{"t":178,"s":0.545,"g":"Low RAGE and IR"},{"t":185,"s":0.539,"g":"Low RAGE and IR"},{"t":192,"s":0.532,"g":"Low RAGE and IR"},{"t":199,"s":0.525,"g":"Low RAGE and IR"},{"t":204,"s":0.516,"g":"Low RAGE and IR"},{"t":208,"s":0.508,"g":"Low RAGE and IR"},{"t":214,"s":0.495,"g":"Low RAGE and IR"},{"t":219,"s":0.483,"g":"Low RAGE and IR"},{"t":225,"s":0.474,"g":"Low RAGE and IR"},{"t":231,"s":0.466,"g":"Low RAGE and IR"},{"t":238,"s":0.462,"g":"Low RAGE and IR"},{"t":244,"s":0.458,"g":"Low RAGE and IR"},{"t":249,"s":0.449,"g":"Low RAGE and IR"},{"t":253,"s":0.441,"g":"Low RAGE and IR"},{"t":259,"s":0.428,"g":"Low RAGE and IR"},{"t":265,"s":0.415,"g":"Low RAGE and IR"},{"t":270,"s":0.4,"g":"Low RAGE and IR"},{"t":274,"s":0.39,"g":"Low RAGE and IR"},
    {"t":0,"s":1.0,"g":"High RAGE and IR"},{"t":10,"s":0.995,"g":"High RAGE and IR"},{"t":16,"s":0.983,"g":"High RAGE and IR"},{"t":23,"s":0.96,"g":"High RAGE and IR"},{"t":30,"s":0.932,"g":"High RAGE and IR"},{"t":34,"s":0.9,"g":"High RAGE and IR"},{"t":37,"s":0.873,"g":"High RAGE and IR"},{"t":40,"s":0.84,"g":"High RAGE and IR"},{"t":43,"s":0.805,"g":"High RAGE and IR"},{"t":46,"s":0.775,"g":"High RAGE and IR"},{"t":48,"s":0.754,"g":"High RAGE and IR"},{"t":53,"s":0.745,"g":"High RAGE and IR"},{"t":57,"s":0.737,"g":"High RAGE and IR"},{"t":60,"s":0.724,"g":"High RAGE and IR"},{"t":62,"s":0.712,"g":"High RAGE and IR"},{"t":67,"s":0.7,"g":"High RAGE and IR"},{"t":71,"s":0.686,"g":"High RAGE and IR"},{"t":76,"s":0.678,"g":"High RAGE and IR"},{"t":80,"s":0.669,"g":"High RAGE and IR"},{"t":85,"s":0.652,"g":"High RAGE and IR"},{"t":89,"s":0.636,"g":"High RAGE and IR"},{"t":94,"s":0.62,"g":"High RAGE and IR"},{"t":98,"s":0.602,"g":"High RAGE and IR"},{"t":103,"s":0.585,"g":"High RAGE and IR"},{"t":107,"s":0.568,"g":"High RAGE and IR"},{"t":112,"s":0.545,"g":"High RAGE and IR"},{"t":116,"s":0.525,"g":"High RAGE and IR"},{"t":126,"s":0.517,"g":"High RAGE and IR"},{"t":139,"s":0.508,"g":"High RAGE and IR"},{"t":146,"s":0.495,"g":"High RAGE and IR"},{"t":153,"s":0.483,"g":"High RAGE and IR"},{"t":160,"s":0.474,"g":"High RAGE and IR"},{"t":167,"s":0.466,"g":"High RAGE and IR"},{"t":180,"s":0.458,"g":"High RAGE and IR"},{"t":184,"s":0.44,"g":"High RAGE and IR"},{"t":187,"s":0.415,"g":"High RAGE and IR"},{"t":193,"s":0.395,"g":"High RAGE and IR"},{"t":199,"s":0.376,"g":"High RAGE and IR"},{"t":233,"s":0.376,"g":"High RAGE and IR"},{"t":234,"s":0.28,"g":"High RAGE and IR"},{"t":253,"s":0.28,"g":"High RAGE and IR"}
  ],
  "cenF": [
    {"t":5,"s":1.0,"g":"Low RAGE and IR"},{"t":270,"s":0.4,"g":"Low RAGE and IR"},{"t":274,"s":0.39,"g":"Low RAGE and IR"},
    {"t":10,"s":0.995,"g":"High RAGE and IR"},{"t":13,"s":0.995,"g":"High RAGE and IR"},{"t":20,"s":0.983,"g":"High RAGE and IR"},{"t":26,"s":0.96,"g":"High RAGE and IR"},{"t":36,"s":0.9,"g":"High RAGE and IR"},{"t":55,"s":0.745,"g":"High RAGE and IR"},{"t":65,"s":0.712,"g":"High RAGE and IR"},{"t":73,"s":0.686,"g":"High RAGE and IR"},{"t":78,"s":0.678,"g":"High RAGE and IR"},{"t":84,"s":0.669,"g":"High RAGE and IR"},{"t":92,"s":0.636,"g":"High RAGE and IR"},{"t":100,"s":0.602,"g":"High RAGE and IR"},{"t":110,"s":0.568,"g":"High RAGE and IR"},{"t":122,"s":0.525,"g":"High RAGE and IR"},{"t":128,"s":0.517,"g":"High RAGE and IR"},{"t":133,"s":0.517,"g":"High RAGE and IR"},{"t":137,"s":0.517,"g":"High RAGE and IR"},{"t":143,"s":0.508,"g":"High RAGE and IR"},{"t":150,"s":0.495,"g":"High RAGE and IR"},{"t":163,"s":0.474,"g":"High RAGE and IR"},{"t":170,"s":0.466,"g":"High RAGE and IR"},{"t":176,"s":0.466,"g":"High RAGE and IR"},{"t":182,"s":0.458,"g":"High RAGE and IR"},{"t":186,"s":0.44,"g":"High RAGE and IR"},{"t":196,"s":0.395,"g":"High RAGE and IR"},{"t":205,"s":0.376,"g":"High RAGE and IR"},{"t":212,"s":0.376,"g":"High RAGE and IR"},{"t":220,"s":0.376,"g":"High RAGE and IR"},{"t":228,"s":0.376,"g":"High RAGE and IR"},{"t":238,"s":0.28,"g":"High RAGE and IR"},{"t":244,"s":0.28,"g":"High RAGE and IR"},{"t":252,"s":0.28,"g":"High RAGE and IR"}
  ]
},
"resolve": {"scale": {"color": "independent"}, "legend": {"color": "independent"}},
"concat": [
  {
    "title": {"text": "METABRIC", "anchor": "middle", "fontSize": 17.5, "offset": 0, "dy": 20},
    "columns": 1, "align": "none", "spacing": 15,
    "resolve": {"scale": {"color": "independent"}, "legend": {"color": "independent"}},
    "concat": [
      {
        "width": 568, "height": 151,
        "title": {"text": "A", "offset": 21, "dx": -9},
        "view": {"stroke": "#222", "strokeWidth": 1.3},
        "layer": [
          {"data": {"values": [{"hr": -0.6}, {"hr": -0.2}, {"hr": 0.2}, {"hr": 0.6}]},
           "mark": {"type": "rule", "color": "#dcdcdc", "strokeDash": [2, 2], "strokeWidth": 0.8},
           "encoding": {"y": {"field": "hr", "type": "quantitative"}}},
          {"data": {"name": "rug"},
           "mark": {"type": "rule", "color": "#c2c2c2", "strokeWidth": 0.8},
           "encoding": {"x": {"field": "x", "type": "quantitative"}, "y": {"datum": -0.738}, "y2": {"datum": -0.684}}},
          {"data": {"name": "hr"}, "transform": [{"filter": "datum.p == null"}],
           "mark": {"type": "circle", "size": 50, "color": "#7f7f7f", "opacity": 1},
           "encoding": {
             "x": {"field": "x", "type": "quantitative", "scale": {"domain": [-26.3, 587.8], "nice": false, "zero": false},
                   "axis": {"values": [0, 100, 200, 300, 400, 500], "grid": true, "gridDash": [4, 3], "gridColor": "#cdcdcd", "labels": false, "ticks": false, "domain": false, "title": null}},
             "y": {"field": "hr", "type": "quantitative", "scale": {"domain": [-0.763, 0.786], "nice": false, "zero": false},
                   "axis": {"values": [-0.4, 0, 0.4], "format": ".1f", "grid": true, "gridDash": [4, 3], "gridColor": "#cdcdcd", "domain": false, "tickSize": 3, "labelFontSize": 10.5, "labelColor": "#222", "labelPadding": 4, "title": "HR", "titleColor": "#8a8a8a", "titleFontSize": 18.5, "titlePadding": 3}}
           }},
          {"data": {"values": [{}]},
           "mark": {"type": "rule", "color": "#000", "strokeDash": [1.6, 8.4], "strokeWidth": 1.8},
           "encoding": {"y": {"datum": 0}}},
          {"data": {"name": "hr"}, "transform": [{"filter": "datum.p != null"}],
           "mark": {"type": "circle", "size": 50, "opacity": 1},
           "encoding": {
             "x": {"field": "x", "type": "quantitative"},
             "y": {"field": "hr", "type": "quantitative"},
             "color": {"field": "p", "type": "quantitative",
                       "scale": {"scheme": "viridis", "reverse": true, "domain": [-2.81, -1.35], "zero": false, "nice": false},
                       "legend": {"title": "log10_p", "orient": "none", "direction": "horizontal", "legendX": 199, "legendY": 167, "titleOrient": "left", "titleFontSize": 12, "titleFontWeight": "bold", "titleColor": "#222", "titlePadding": 8, "gradientLength": 103, "gradientThickness": 13, "gradientStrokeWidth": 0, "labelFontSize": 9.5, "labelColor": "#222", "values": [-2.8, -2.4, -2.0, -1.6], "format": ".1f"}}
           }}
        ]
      },
      {
        "width": 252, "height": 234,
        "title": {"text": "B", "offset": 0, "dy": 17, "dx": -6},
        "layer": [
          {"data": {"name": "kmB"},
           "mark": {"type": "line", "interpolate": "step-after", "strokeWidth": 1.8},
           "encoding": {
             "x": {"field": "t", "type": "quantitative", "scale": {"domain": [-17, 319], "nice": false, "zero": false},
                   "axis": {"values": [0, 100, 200, 300], "title": "Time (months)", "titleFontSize": 17.5, "titlePadding": 11, "labelPadding": 2}},
             "y": {"field": "s", "type": "quantitative", "scale": {"domain": [-0.05, 1.05], "nice": false, "zero": false},
                   "axis": {"values": [0, 0.25, 0.5, 0.75, 1], "format": ".2f", "title": "BCS", "titleFontSize": 16.5, "titlePadding": 6, "labelPadding": 3}},
             "color": {"field": "g", "type": "nominal", "scale": {"domain": ["Low RAGE", "High RAGE"], "range": ["#2E6CB5", "#F07D2D"]},
                       "legend": {"title": null, "orient": "none", "legendX": 157, "legendY": 22, "symbolType": "square", "symbolSize": 130, "symbolStrokeWidth": 0, "symbolOpacity": 1, "labelFontSize": 13.5, "labelColor": "#111", "labelOffset": -1, "rowPadding": -3}}
           }},
          {"data": {"name": "cenB"},
           "mark": {"type": "point", "shape": "cross", "filled": true, "size": 22, "opacity": 1},
           "encoding": {"x": {"field": "t", "type": "quantitative"}, "y": {"field": "s", "type": "quantitative"},
                        "color": {"field": "g", "type": "nominal",
                                  "legend": {"title": null, "orient": "none", "legendX": 157, "legendY": 22, "symbolType": "square", "symbolSize": 130, "symbolStrokeWidth": 0, "symbolOpacity": 1, "labelFontSize": 13.5, "labelColor": "#111", "labelOffset": -1, "rowPadding": -3}}}},
          {"data": {"values": [{}]},
           "mark": {"type": "text", "text": "p < 0.001", "fontSize": 12, "fontWeight": "bold", "align": "left", "baseline": "middle", "color": "#111"},
           "encoding": {"x": {"datum": 14}, "y": {"datum": 0.142}}}
        ]
      }
    ]
  },
  {
    "columns": 1, "align": "none", "spacing": 30,
    "resolve": {"scale": {"color": "independent"}, "legend": {"color": "independent"}},
    "concat": [
      {
        "columns": 2, "align": "none", "spacing": 64,
        "resolve": {"scale": {"color": "independent"}, "legend": {"color": "independent"}},
        "concat": [
          {
            "width": 203, "height": 236,
            "title": {"text": "C", "offset": 2, "dx": 9},
            "layer": [
              {"data": {"name": "boxC"}, "mark": {"type": "rule", "color": "#555", "strokeWidth": 1},
               "encoding": {
                 "x": {"field": "g", "type": "quantitative", "scale": {"domain": [0.382, 2.533], "nice": false, "zero": false},
                       "axis": {"values": [1, 2], "labelExpr": "datum.value == 1 ? ['Stage I','(n=475)'] : ['Stage II-III','(n=915)']", "labelFontSize": 17, "labelColor": "#111", "labelLineHeight": 21, "labelPadding": 11, "title": null}},
                 "y": {"field": "lo", "type": "quantitative", "scale": {"domain": [4.807, 7.299], "nice": false, "zero": false},
                       "axis": {"values": [5, 5.5, 6, 6.5, 7], "format": ".1f", "labelFontSize": 9.5, "labelPadding": 2, "title": ["RAGE", "(mRNA expression)"], "titleFontSize": 17, "titleLineHeight": 20, "titlePadding": 2}},
                 "y2": {"field": "hi"}}},
              {"data": {"name": "boxC"}, "mark": {"type": "bar", "width": 71, "stroke": "#555", "strokeWidth": 1},
               "encoding": {"x": {"field": "g", "type": "quantitative"}, "y": {"field": "q1", "type": "quantitative"}, "y2": {"field": "q3"},
                            "color": {"field": "stage", "type": "nominal", "scale": {"domain": ["Stage I", "Stage II-III"], "range": ["#1B9E77", "#D95F02"]}, "legend": null}}},
              {"data": {"name": "boxC"}, "mark": {"type": "tick", "orient": "horizontal", "size": 71, "thickness": 2, "color": "#333", "opacity": 1},
               "encoding": {"x": {"field": "g", "type": "quantitative"}, "y": {"field": "med", "type": "quantitative"}}},
              {"data": {"name": "outC"}, "mark": {"type": "circle", "size": 10, "color": "#333", "opacity": 1},
               "encoding": {"x": {"field": "g", "type": "quantitative"}, "y": {"field": "v", "type": "quantitative"}}},
              {"data": {"name": "brC"}, "mark": {"type": "line", "color": "#333", "strokeWidth": 1},
               "encoding": {"x": {"field": "g", "type": "quantitative"}, "y": {"field": "v", "type": "quantitative"}, "order": {"field": "o"}}},
              {"data": {"values": [{}]}, "mark": {"type": "text", "text": "***", "fontSize": 14, "fontWeight": "bold", "baseline": "alphabetic", "align": "center", "color": "#111"},
               "encoding": {"x": {"datum": 1.5}, "y": {"datum": 7.18}}}
            ]
          },
          {
            "width": 208, "height": 237,
            "title": {"text": "D", "offset": -1, "dx": -1},
            "layer": [
              {"data": {"name": "boxD"}, "mark": {"type": "rule", "color": "#555", "strokeWidth": 1},
               "encoding": {
                 "x": {"field": "g", "type": "quantitative", "scale": {"domain": [0.399, 2.604], "nice": false, "zero": false},
                       "axis": {"values": [1, 2], "labelExpr": "datum.value == 1 ? ['Stage I','(n=475)'] : ['Stage II-III','(n=915)']", "labelFontSize": 17, "labelColor": "#111", "labelLineHeight": 21, "labelPadding": 11, "title": null}},
                 "y": {"field": "lo", "type": "quantitative", "scale": {"domain": [4.952, 7.09], "nice": false, "zero": false},
                       "axis": {"values": [5, 5.5, 6, 6.5, 7], "format": ".1f", "labelFontSize": 9.5, "labelPadding": 2, "title": ["IR", "(mRNA expression)"], "titleFontSize": 17, "titleLineHeight": 20, "titlePadding": 4}},
                 "y2": {"field": "hi"}}},
              {"data": {"name": "boxD"}, "mark": {"type": "bar", "width": 70, "stroke": "#555", "strokeWidth": 1},
               "encoding": {"x": {"field": "g", "type": "quantitative"}, "y": {"field": "q1", "type": "quantitative"}, "y2": {"field": "q3"},
                            "color": {"field": "stage", "type": "nominal", "scale": {"domain": ["Stage I", "Stage II-III"], "range": ["#1B9E77", "#D95F02"]}, "legend": null}}},
              {"data": {"name": "boxD"}, "mark": {"type": "tick", "orient": "horizontal", "size": 70, "thickness": 2, "color": "#333", "opacity": 1},
               "encoding": {"x": {"field": "g", "type": "quantitative"}, "y": {"field": "med", "type": "quantitative"}}},
              {"data": {"name": "outD"}, "mark": {"type": "circle", "size": 10, "color": "#333", "opacity": 1},
               "encoding": {"x": {"field": "g", "type": "quantitative"}, "y": {"field": "v", "type": "quantitative"}}},
              {"data": {"name": "brD"}, "mark": {"type": "line", "color": "#333", "strokeWidth": 1},
               "encoding": {"x": {"field": "g", "type": "quantitative"}, "y": {"field": "v", "type": "quantitative"}, "order": {"field": "o"}}},
              {"data": {"values": [{}]}, "mark": {"type": "text", "text": "****", "fontSize": 14, "fontWeight": "bold", "baseline": "alphabetic", "align": "center", "color": "#111"},
               "encoding": {"x": {"datum": 1.5}, "y": {"datum": 7.0}}}
            ]
          }
        ]
      },
      {
        "columns": 2, "align": "none", "spacing": 39,
        "resolve": {"scale": {"color": "independent"}, "legend": {"color": "independent"}},
        "concat": [
          {
            "width": 248, "height": 238,
            "title": {"text": "E", "offset": 0, "dy": 9, "dx": 3},
            "layer": [
              {"data": {"name": "scat"}, "mark": {"type": "circle", "size": 66, "color": "#0D6368", "opacity": 0.58},
               "encoding": {
                 "x": {"field": "ir", "type": "quantitative", "scale": {"domain": [4.928, 6.977], "nice": false, "zero": false},
                       "axis": {"values": [5, 5.5, 6, 6.5], "format": ".1f", "labelPadding": 3, "title": ["IR", "(mRNA expression)"], "titleFontSize": 17.5, "titleLineHeight": 19, "titlePadding": 18}},
                 "y": {"field": "rage", "type": "quantitative", "scale": {"domain": [4.81, 7.187], "nice": false, "zero": false},
                       "axis": {"values": [5, 5.5, 6, 6.5, 7], "format": ".1f", "labelPadding": 2, "title": ["RAGE", "(mRNA expression)"], "titleFontSize": 17.5, "titleLineHeight": 19, "titlePadding": 0}}
               }},
              {"data": {"name": "fit"}, "mark": {"type": "line", "color": "#F2181A", "strokeWidth": 3},
               "encoding": {"x": {"field": "ir", "type": "quantitative"}, "y": {"field": "rage", "type": "quantitative"}}},
              {"data": {"values": [{}]}, "mark": {"type": "text", "text": ["r=0.47", "p<0.0001"], "fontSize": 9.5, "fontWeight": "bold", "lineHeight": 12.5, "align": "left", "baseline": "top", "color": "#111"},
               "encoding": {"x": {"datum": 6.49}, "y": {"datum": 5.34}}}
            ]
          },
          {
            "width": 237, "height": 239,
            "title": {"text": "F", "offset": 0, "dy": 9, "dx": -1},
            "layer": [
              {"data": {"values": [{}]}, "mark": {"type": "rule", "color": "#444", "strokeWidth": 1},
               "encoding": {"x": {"datum": -14.5}, "y": {"datum": -0.052}, "y2": {"datum": 1.051}}},
              {"data": {"name": "kmF"},
               "mark": {"type": "line", "interpolate": "step-after", "strokeWidth": 1.8},
               "encoding": {
                 "x": {"field": "t", "type": "quantitative", "scale": {"domain": [-14.5, 310.5], "nice": false, "zero": false},
                       "axis": {"values": [0, 100, 200, 300], "title": "Time (months)", "titleFontSize": 17.5, "titlePadding": 2, "labelPadding": 3}},
                 "y": {"field": "s", "type": "quantitative", "scale": {"domain": [-0.052, 1.163], "nice": false, "zero": false},
                       "axis": {"values": [0, 0.25, 0.5, 0.75, 1], "format": ".2f", "domain": false, "title": "BCS", "titleFontSize": 16.5, "titlePadding": 5, "labelPadding": 3}},
                 "color": {"field": "g", "type": "nominal", "scale": {"domain": ["Low RAGE and IR", "High RAGE and IR"], "range": ["#3C9CF2", "#F2353A"]},
                           "legend": {"title": null, "orient": "none", "legendX": 100, "legendY": 28, "symbolType": "square", "symbolSize": 130, "symbolStrokeWidth": 0, "symbolOpacity": 1, "labelFontSize": 13.5, "labelColor": "#111", "labelOffset": -1, "rowPadding": -3, "labelLimit": 300}}
               }},
              {"data": {"name": "cenF"},
               "mark": {"type": "point", "shape": "cross", "filled": true, "size": 24, "opacity": 1},
               "encoding": {"x": {"field": "t", "type": "quantitative"}, "y": {"field": "s", "type": "quantitative"},
                            "color": {"field": "g", "type": "nominal",
                                      "legend": {"title": null, "orient": "none", "legendX": 100, "legendY": 28, "symbolType": "square", "symbolSize": 130, "symbolStrokeWidth": 0, "symbolOpacity": 1, "labelFontSize": 13.5, "labelColor": "#111", "labelOffset": -1, "rowPadding": -3, "labelLimit": 300}}}},
              {"data": {"values": [{}]},
               "mark": {"type": "text", "text": "p < 0.05", "fontSize": 12, "fontWeight": "bold", "align": "left", "baseline": "middle", "color": "#111"},
               "encoding": {"x": {"datum": 12}, "y": {"datum": 0.166}}}
            ]
          }
        ]
      }
    ]
  }
],
"columns": 1, "align": "none", "spacing": 13
}
